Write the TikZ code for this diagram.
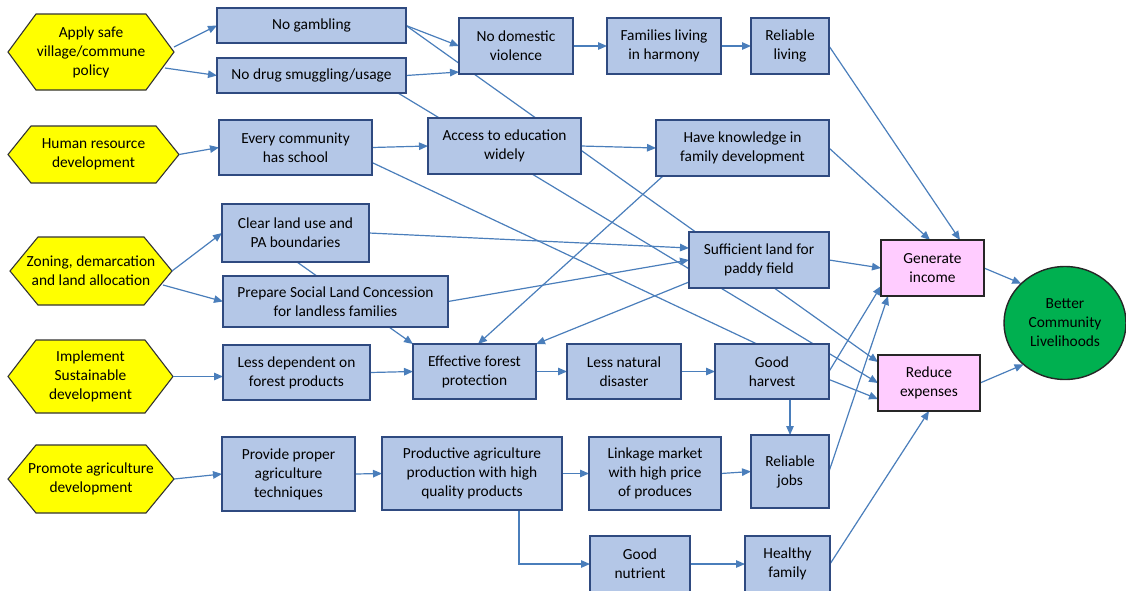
\documentclass[tikz,border=0pt]{standalone}
\usepackage{fontspec}
\setmainfont{Carlito}
\usetikzlibrary{arrows.meta,calc,shapes.geometric}
\definecolor{boxfill}{HTML}{B4C7E7}
\definecolor{boxline}{HTML}{2F4A80}
\definecolor{wire}{HTML}{4A7EBB}
\definecolor{hexfill}{HTML}{FFFF00}
\definecolor{pinkfill}{HTML}{FFCCFF}
\definecolor{greenfill}{HTML}{00B050}
\pgfdeclarelayer{back}
\pgfdeclarelayer{wires}
\pgfsetlayers{back,wires,main}
\tikzset{
  base/.style={font=\fontsize{15.4}{19}\selectfont, align=center, inner sep=0pt, outer sep=0pt},
  box/.style={base, rectangle, draw=boxline, line width=1.4pt, fill=boxfill},
  goal/.style={base, rectangle, draw=black!85, line width=1.4pt, fill=pinkfill},
  final/.style={base, ellipse, draw=black!85, line width=1.4pt, fill=greenfill},
  hexnode/.style={base, rectangle},
  hexline/.style={draw=black!80, line width=1.1pt, fill=hexfill},
  wireline/.style={draw=wire, line width=1.2pt},
  arr/.style={wireline, -{Triangle[length=9pt,width=7.5pt]}},
}
\newcommand\hexo[2]{\begin{pgfonlayer}{back}\path[hexline] (#1.west) -- ([xshift=#2pt]#1.north west) -- ([xshift=-#2pt]#1.north east) -- (#1.east) -- ([xshift=-#2pt]#1.south east) -- ([xshift=#2pt]#1.south west) -- cycle;\end{pgfonlayer}}
\begin{document}
\begin{tikzpicture}[x=1pt,y=-1pt]
\useasboundingbox (0,0) rectangle (1126,590);

% hexagons
\node[hexnode, minimum width=166pt, minimum height=76pt] (h1) at (91,52) {Apply safe\\village/commune\\policy};
\node[hexnode, minimum width=171pt, minimum height=57pt] (h2) at (93.5,154.5) {Human resource\\development};
\node[hexnode, minimum width=162pt, minimum height=68pt] (h3) at (91,271) {Zoning, demarcation\\and land allocation};
\node[hexnode, minimum width=165pt, minimum height=73pt] (h4) at (90.5,376.5) {Implement\\Sustainable\\development};
\node[hexnode, minimum width=166pt, minimum height=68pt] (h5) at (91,479) {Promote agriculture\\development};
\hexo{h1}{28}
\hexo{h2}{23}
\hexo{h3}{28}
\hexo{h4}{28}
\hexo{h5}{28}

% boxes
\node[box, minimum width=189pt, minimum height=35pt] (gamb) at (311.5,25.5) {No gambling};
\node[box, minimum width=189pt, minimum height=35pt] (drug) at (311.5,75.5) {No drug smuggling/usage};
\node[box, minimum width=153pt, minimum height=55pt] (school) at (295.5,147.5) {Every community\\has school};
\node[box, minimum width=114pt, minimum height=56pt] (dv) at (516,46) {No domestic\\violence};
\node[box, minimum width=114pt, minimum height=56pt] (harm) at (664,46) {Families living\\in harmony};
\node[box, minimum width=78pt, minimum height=56pt] (rliv) at (790,46) {Reliable\\living};
\node[box, minimum width=153pt, minimum height=56pt] (acc) at (504.5,146) {Access to education\\widely};
\node[box, minimum width=173pt, minimum height=56pt] (know) at (742.5,148) {Have knowledge in\\family development};
\node[box, minimum width=147pt, minimum height=58pt] (clear) at (295.5,233) {Clear land use and\\PA boundaries};
\node[box, minimum width=225pt, minimum height=51pt] (slc) at (335.5,301.5) {Prepare Social Land Concession\\for landless families};
\node[box, minimum width=140pt, minimum height=56pt] (paddy) at (759,260) {Sufficient land for\\paddy field};
\node[box, minimum width=147pt, minimum height=55pt] (lessdep) at (296.5,372.5) {Less dependent on\\forest products};
\node[box, minimum width=123pt, minimum height=55pt] (forest) at (474.5,371.5) {Effective forest\\protection};
\node[box, minimum width=114pt, minimum height=55pt] (disas) at (624,371.5) {Less natural\\disaster};
\node[box, minimum width=114pt, minimum height=55pt] (harv) at (772,371.5) {Good\\harvest};
\node[box, minimum width=133pt, minimum height=74pt] (tech) at (288.5,474) {Provide proper\\agriculture\\techniques};
\node[box, minimum width=180pt, minimum height=73pt] (prod) at (472,473.5) {Productive agriculture\\production with high\\quality products};
\node[box, minimum width=132pt, minimum height=73pt] (link) at (655,473.5) {Linkage market\\with high price\\of produces};
\node[box, minimum width=78pt, minimum height=73pt] (jobs) at (790,471.5) {Reliable\\jobs};
\node[box, minimum width=100pt, minimum height=56pt] (nutr) at (640,564) {Good\\nutrient};
\node[box, minimum width=85pt, minimum height=56pt] (hfam) at (787.5,564) {Healthy\\family};
\node[goal, minimum width=103pt, minimum height=56pt] (gen) at (932.5,268) {Generate\\income};
\node[goal, minimum width=102pt, minimum height=56pt] (red) at (929,383) {Reduce\\expenses};
\node[final, minimum width=122pt, minimum height=113pt] (better) at (1065,323) {Better\\Community\\Livelihoods};

\begin{pgfonlayer}{wires}
\draw[arr] ([yshift=5pt]h1.east) -- (gamb.west);
\draw[arr] ($(h1.east)+(-9,16)$) -- (drug.west);
\draw[arr] (h2.east) -- (school.west);
\draw[arr] (h3.east) -- (clear.west);
\draw[arr] ($(h3.east)+(-9,14)$) -- (slc.west);
\draw[arr] (h4.east) -- (h4.east -| lessdep.west);
\draw[arr] (h5.east) -- (tech.west);

\draw[arr] (gamb.east) -- (dv.west);
\draw[arr] (drug.east) -- ([yshift=2pt]dv.south west);
\draw[arr] (gamb.east) -- ([yshift=21pt]red.west);
\draw[arr] ([xshift=-8pt]drug.south east) -- (red.west);
\draw[arr] (dv.east) -- (harm.west);
\draw[arr] (harm.east) -- (rliv.west);
\draw[arr] (rliv.east) -- ([xshift=27.5pt]gen.north);

\draw[arr] (school.east) -- (acc.west);
\draw[wireline] ([yshift=-15pt]school.east) -- ([xshift=-15pt]harv.north);
\draw[arr] (acc.east) -- (know.west);
\draw[arr] (know.east) -- ([xshift=-2.5pt]gen.north);
\draw[arr] ([xshift=7pt]know.south west) -- ([xshift=3.5pt]forest.north);

\draw[arr] (clear.east) -- ([yshift=12pt]paddy.west);
\draw[arr] (slc.east) -- (paddy.west);
\draw[arr] ([xshift=1.5pt]clear.south) -- (forest.north west);
\draw[arr] (paddy.east) -- (gen.west);
\draw[arr] ([yshift=-22pt]paddy.west) -- (forest.north east);

\draw[arr] (lessdep.east) -- (forest.west);
\draw[arr] (forest.east) -- (disas.west);
\draw[arr] (disas.east) -- (harv.west);
\draw[arr] (harv.east) -- ([yshift=10pt]gen.south west);
\draw[arr] ([yshift=-8pt]harv.east) -- ([yshift=-16pt]red.west);
\draw[arr] (harv.south -| jobs.north) -- (jobs.north);

\draw[arr] (tech.east) -- (prod.west);
\draw[arr] (prod.east) -- (link.west);
\draw[arr] (link.east) -- (jobs.west);
\draw[arr] (jobs.east) -- ([xshift=7pt]gen.south west);
\draw[arr] ([xshift=47pt]prod.south) |- (nutr.west);
\draw[arr] (nutr.east) -- (hfam.west);
\draw[arr] (hfam.east) -- (red.south);

\draw[arr] (gen.east) -- (better.138);
\draw[arr] (red.east) -- (better.225);
\end{pgfonlayer}
\end{tikzpicture}
\end{document}
